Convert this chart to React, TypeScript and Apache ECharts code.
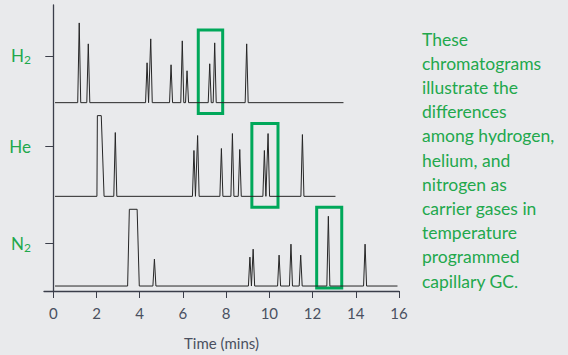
import React, { useEffect, useRef } from "react";
import * as echarts from "echarts";

// Peak retention times (min) and heights (signal units) for each carrier gas
const h2Times = [1.2, 1.62, 4.34, 4.51, 5.45, 5.97, 6.19, 7.24, 7.47, 8.95];
const h2Heights = [80, 59, 40, 64, 38, 62, 32, 39, 60, 59];
const heTimes = [2.87, 6.51, 6.68, 7.78, 8.29, 8.63, 9.77, 9.94, 11.53];
const heHeights = [64, 46, 61, 48, 63, 47, 46, 63, 62];
const n2Times = [4.68, 9.1, 9.25, 10.45, 11.0, 11.45, 12.73, 14.43];
const n2Heights = [27, 29, 37, 31, 42, 31, 70, 42];

// Solvent (flat-topped) peaks: [start, topStart, topEnd, end, height]
const heSolvent = [2.02, 2.04, 2.22, 2.35, 81];
const n2Solvent = [3.44, 3.52, 3.88, 3.98, 77];

// Run ranges [start, end] in minutes
const h2Run = [0.08, 13.43];
const heRun = [0.08, 13.06];
const n2Run = [0.08, 15.93];

// Vertical offsets of each trace and label positions
const gasNames = ["H2", "He", "N2"];
const gasOffsets = [189, 95, 5];
const gasLabelValues = [236, 145, 48];

// Highlight boxes [xStart, xEnd, yBottom, yTop]
const h2Box = [6.71, 7.84, 178, 262];
const heBox = [9.19, 10.4, 84, 168];
const n2Box = [12.19, 13.35, 3, 84];

const xTicks = [0, 2, 4, 6, 8, 10, 12, 14, 16];

const description =
  "These\nchromatograms\nillustrate the\ndifferences\namong hydrogen,\nhelium, and\nnitrogen as\ncarrier gases in\ntemperature\nprogrammed\ncapillary GC.";

const HALF_WIDTH = 0.07;

function buildTrace(
  run: number[],
  times: number[],
  heights: number[],
  offset: number,
  solvent?: number[]
): number[][] {
  const pts: number[][] = [];
  const events: { t: number; pts: number[][] }[] = [];
  times.forEach((t, i) => {
    events.push({
      t,
      pts: [
        [t - HALF_WIDTH, offset],
        [t, offset + heights[i]],
        [t + HALF_WIDTH, offset],
      ],
    });
  });
  if (solvent) {
    const [a, b, c, d, h] = solvent;
    events.push({
      t: a,
      pts: [
        [a, offset],
        [b, offset + h],
        [c, offset + h],
        [d, offset],
      ],
    });
  }
  events.sort((p, q) => p.t - q.t);
  pts.push([run[0], offset]);
  events.forEach((e) => pts.push(...e.pts));
  pts.push([run[1], offset]);
  return pts;
}

const GREEN_TEXT = "#22a84c";
const GREEN_BOX = "#00a85a";
const AXIS = "#3b3e4a";
const LABEL = "#4a5060";

export default function App() {
  const ref = useRef<HTMLDivElement>(null);
  useEffect(() => {
    if (!ref.current) return;
    const chart = echarts.init(ref.current, undefined, { renderer: "svg" });

    const boxArea = (b: number[]) => [
      [{ coord: [b[0], b[3]] }, { coord: [b[1], b[2]] }],
    ];
    const mk = (name: string, data: number[][], box: number[]) => ({
      type: "line",
      name,
      data,
      symbol: "none",
      lineStyle: { color: "#262626", width: 1 },
      silent: true,
      markArea: {
        silent: true,
        itemStyle: {
          color: "transparent",
          borderColor: GREEN_BOX,
          borderWidth: 3,
        },
        data: boxArea(box),
      },
    });

    chart.setOption({
      animation: false,
      backgroundColor: "#e9eaec",
      grid: { left: 44, right: 169, top: 5, bottom: 63 },
      xAxis: {
        type: "value",
        min: -0.43,
        max: 16,
        name: "Time (mins)",
        nameLocation: "middle",
        nameGap: 44,
        nameTextStyle: { color: LABEL, fontSize: 15, fontFamily: "Lato" },
        axisLine: { lineStyle: { color: AXIS, width: 1.3 } },
        axisTick: { customValues: xTicks, length: 7, lineStyle: { color: AXIS } },
        axisLabel: {
          customValues: xTicks,
          color: LABEL,
          fontSize: 15,
          fontFamily: "Lato",
          margin: 14,
        },
        splitLine: { show: false },
      },
      yAxis: {
        type: "value",
        min: 0,
        max: 287,
        axisLine: { show: true, lineStyle: { color: AXIS, width: 1.3 } },
        axisTick: {
          show: true,
          customValues: gasLabelValues,
          length: 8,
          lineStyle: { color: AXIS },
        },
        axisLabel: {
          customValues: gasLabelValues,
          margin: 13,
          formatter: (v: number) => {
            const i = gasLabelValues.indexOf(v);
            const n = gasNames[i] || "";
            if (n.endsWith("2")) return "{m|" + n.slice(0, -1) + "}{s|2}";
            return "{m|" + n + "}";
          },
          rich: {
            m: { color: GREEN_TEXT, fontSize: 17, fontFamily: "Lato" },
            s: {
              color: GREEN_TEXT,
              fontSize: 12,
              fontFamily: "Lato",
              padding: [8, 0, 0, 0],
            },
          },
        },
        splitLine: { show: false },
      },
      series: [
        mk("H2", buildTrace(h2Run, h2Times, h2Heights, gasOffsets[0]), h2Box),
        mk("He", buildTrace(heRun, heTimes, heHeights, gasOffsets[1], heSolvent), heBox),
        mk("N2", buildTrace(n2Run, n2Times, n2Heights, gasOffsets[2], n2Solvent), n2Box),
      ],
      graphic: [
        {
          type: "text",
          left: 422,
          top: 27,
          style: {
            text: description,
            fill: GREEN_TEXT,
            fontSize: 17.5,
            fontFamily: "Lato",
            lineHeight: 24.2,
          },
        },
      ],
    });
    return () => chart.dispose();
  }, []);
  return (
    <div
      ref={ref}
      style={{ position: "fixed", left: 0, top: 0, width: 568, height: 355 }}
    />
  );
}
